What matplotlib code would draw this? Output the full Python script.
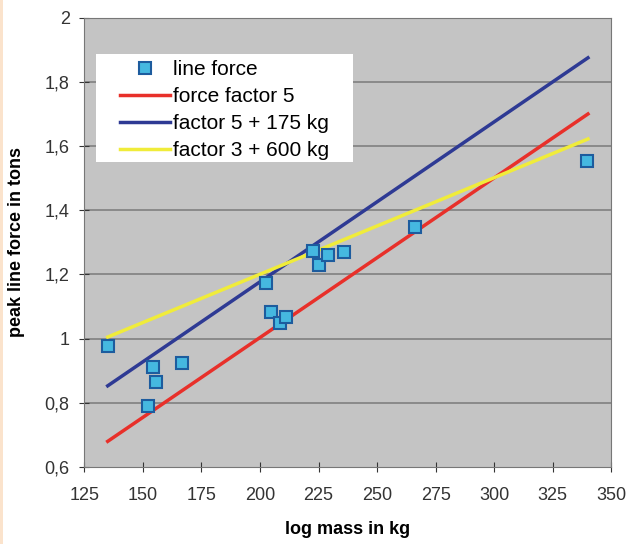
import matplotlib
matplotlib.use('Agg')
import matplotlib.pyplot as plt
from matplotlib.patches import Rectangle

plt.rcParams['font.family'] = ['Liberation Sans', 'DejaVu Sans']

# measured data points
mass = [135, 152, 154.5, 155.5, 166.5, 202.5, 204.5, 208.5, 211, 222.5, 225, 229, 236, 266, 339.5]
force = [0.977, 0.79, 0.913, 0.866, 0.925, 1.172, 1.083, 1.05, 1.066, 1.273, 1.229, 1.262, 1.27, 1.348, 1.553]

# model lines (end points)
line_x = [135, 340]
red_y = [0.68, 1.70]
blue_y = [0.853, 1.875]
yellow_y = [1.005, 1.622]

xticks = [125, 150, 175, 200, 225, 250, 275, 300, 325, 350]
yticks = [0.6, 0.8, 1.0, 1.2, 1.4, 1.6, 1.8, 2.0]
ytick_labels = ['0,6', '0,8', '1', '1,2', '1,4', '1,6', '1,8', '2']

fig = plt.figure(figsize=(6.29, 5.44), dpi=100)
# thin orange strip on the left edge of the scan
fig.add_artist(Rectangle((0, 0), 0.004, 1, transform=fig.transFigure,
                         facecolor='#fbe3cc', edgecolor='none'))

ax = fig.add_axes([0.134, 0.1415, 0.838, 0.826])
ax.set_facecolor('#c4c4c4')

for y in yticks[1:]:
    ax.axhline(y, color='#858585', lw=1.3, zorder=1)

ax.plot(line_x, red_y, color='#e8302a', lw=2.5, label='force factor 5', zorder=2)
ax.plot(line_x, blue_y, color='#2e3a94', lw=2.5, label='factor 5 + 175 kg', zorder=2)
ax.plot(line_x, yellow_y, color='#f0ec3a', lw=2.5, label='factor 3 + 600 kg', zorder=2)
ax.plot(mass, force, 's', ms=9, mfc='#45b8e0', mec='#1d5c9e', mew=1.5,
        label='line force', zorder=3)

ax.set_xlim(125, 350)
ax.set_ylim(0.6, 2.0)
ax.set_xticks(xticks)
ax.set_yticks(yticks)
ax.set_yticklabels(ytick_labels)
ax.tick_params(labelsize=13, colors='#333333', length=7, direction='inout')
ax.tick_params(axis='x', pad=11)
ax.tick_params(axis='y', pad=7)

for s in ax.spines.values():
    s.set_color('#777777')

ax.set_xlabel('log mass in kg', fontsize=13, fontweight='bold', labelpad=12)
ax.set_ylabel('peak line force in tons', fontsize=13, fontweight='bold', labelpad=14)

# white legend box, wider than the legend itself
ax.add_patch(Rectangle((0.023, 0.679), 0.487, 0.241, transform=ax.transAxes,
                       facecolor='white', edgecolor='none', zorder=4))

h, l = ax.get_legend_handles_labels()
order = [3, 0, 1, 2]
leg = ax.legend([h[i] for i in order], [l[i] for i in order], loc='upper left',
                bbox_to_anchor=(0.068, 0.905), borderaxespad=0, borderpad=0,
                fontsize=15, frameon=False, handlelength=2.4,
                handletextpad=0.15, labelspacing=0.38)
leg.set_zorder(5)

fig.savefig('out.png')
